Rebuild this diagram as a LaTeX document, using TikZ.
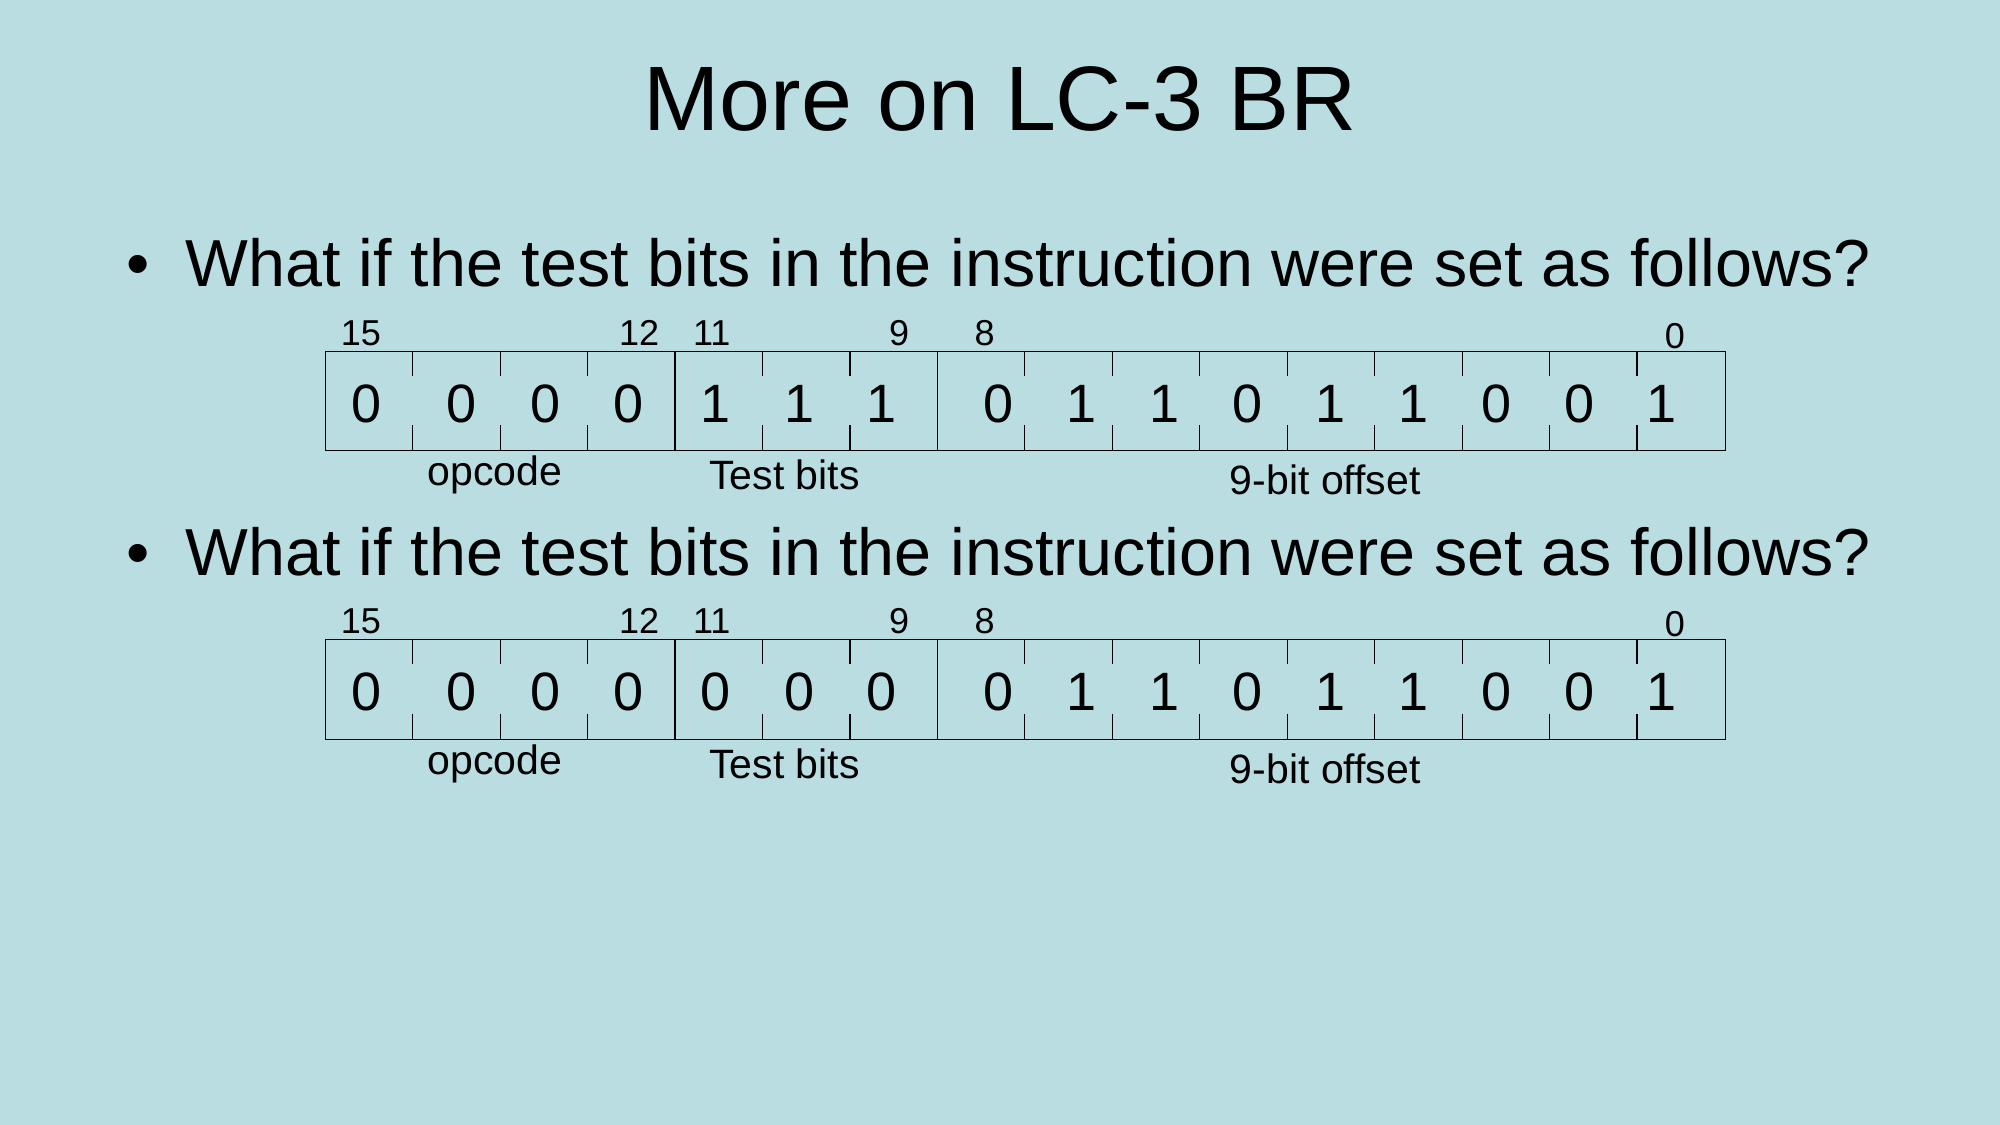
\documentclass[tikz,border=0pt]{standalone}
\usepackage{fontspec}
\setmainfont{Liberation Sans}
\definecolor{slidebg}{RGB}{185,221,225}

% one 16-bit instruction word: #1 = top edge, #2 = name prefix, #3 = value/x pairs
\newcommand\instrword[3]{%
  \node[wordbox, anchor=north west] (#2box) at (255,#1) {};
  % short ticks between bits, full lines between fields
  \foreach \k in {1,...,15}{
    \pgfmathsetmacro\tx{255+\k*68.5625}
    \ifnum\k=4
      \draw[frameline] (\tx,#1) -- (\tx,#1+78);
    \else\ifnum\k=7
      \draw[frameline] (\tx,#1) -- (\tx,#1+78);
    \else
      \draw[frameline] (\tx,#1) -- (\tx,#1+19.5);
      \draw[frameline] (\tx,#1+58.5) -- (\tx,#1+78);
    \fi\fi
  }
  \foreach \v/\px [count=\i] in {#3}{
    \node[bitval] (#2v\i) at (\px,#1+56) {\v};
  }
  \node[bitidx] (#2i15) at (283,#1-4) {15};
  \node[bitidx] (#2i12) at (501,#1-4) {12};
  \node[bitidx] (#2i11) at (558,#1-4) {11};
  \node[bitidx] (#2i9)  at (705,#1-4) {9};
  \node[bitidx] (#2i8)  at (772,#1-4) {8};
  \node[bitidx] (#2i0)  at (1313,#1-2) {0};
  \node[fieldlbl] (#2op)  at (388,#1+106) {opcode};
  \node[fieldlbl] (#2tb)  at (615,#1+109) {Test bits};
  \node[fieldlbl] (#2off) at (1039,#1+113) {9-bit offset};
}

\begin{document}
\begin{tikzpicture}[x=0.6378pt,y=-0.6378pt,
  frameline/.style={draw=black, line width=0.6pt},
  wordbox/.style={frameline, inner sep=0pt, minimum width=699.7pt, minimum height=49.75pt},
  titletext/.style={font=\fontsize{45.8}{50}\selectfont, anchor=base},
  bullettext/.style={font=\fontsize{33.25}{38}\selectfont, anchor=base west, inner sep=0pt},
  bulletmark/.style={font=\fontsize{33.25}{38}\selectfont, anchor=base},
  bitval/.style={font=\fontsize{27}{30}\selectfont, anchor=base},
  bitidx/.style={font=\fontsize{18}{20}\selectfont, anchor=base},
  fieldlbl/.style={font=\fontsize{20.5}{23}\selectfont, anchor=base}]

\fill[slidebg] (0,0) rectangle (1568,882);
\useasboundingbox (0,0) rectangle (1568,882);

\node[titletext] (title) at (784,102) {More on LC-3 BR};

\node[bulletmark] (b1) at (108,225) {\textbullet};
\node[bullettext] (q1) at (145,225) {What if the test bits in the instruction were set as follows?};
\instrword{275}{ra}{0/287,0/362,0/428,0/493,1/561,1/627,1/691,0/783,1/848,1/913,0/978,1/1043,1/1108,0/1173,0/1238,1/1303}

\node[bulletmark] (b2) at (108,451) {\textbullet};
\node[bullettext] (q2) at (145,451) {What if the test bits in the instruction were set as follows?};
\instrword{501}{rb}{0/287,0/362,0/428,0/493,0/561,0/627,0/691,0/783,1/848,1/913,0/978,1/1043,1/1108,0/1173,0/1238,1/1303}

\end{tikzpicture}
\end{document}
